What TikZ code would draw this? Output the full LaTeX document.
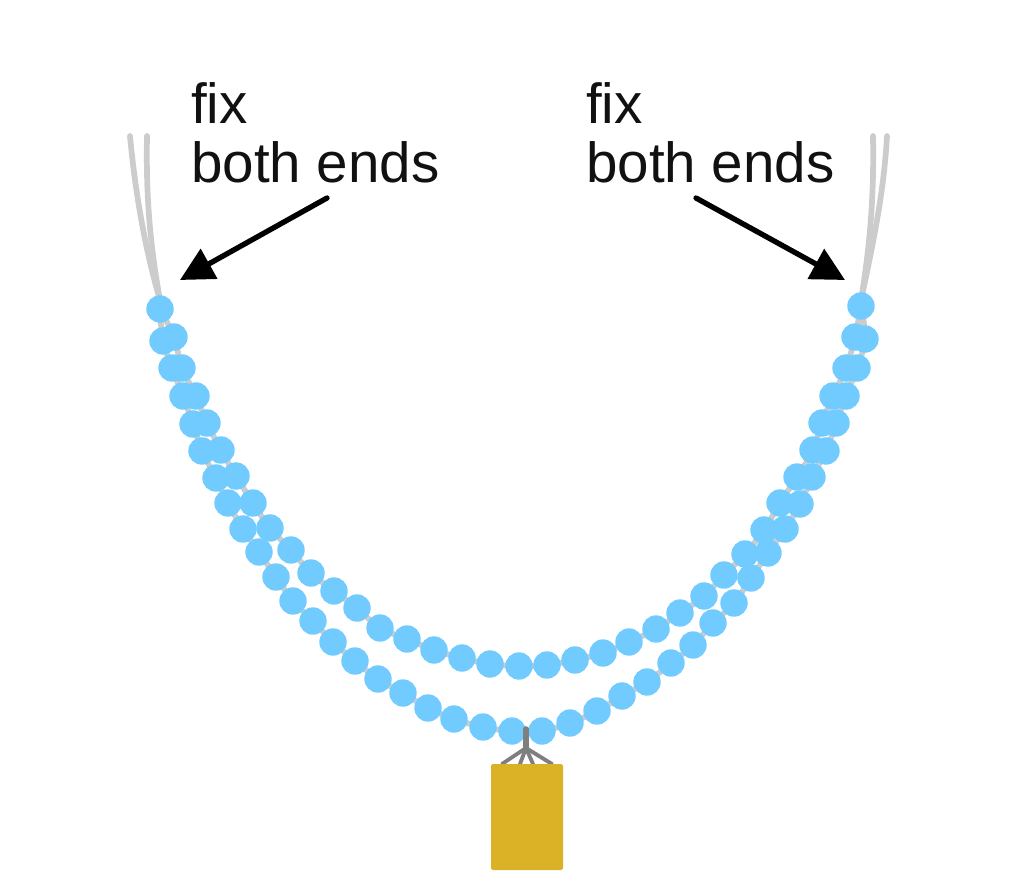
\documentclass[tikz,border=0pt]{standalone}
\usepackage{fontspec}
\setmainfont{Liberation Sans}
\usetikzlibrary{arrows.meta}
\definecolor{beadc}{HTML}{71CBFF}
\definecolor{stringc}{HTML}{CCCCCC}
\definecolor{goldc}{HTML}{DBB126}
\definecolor{hookc}{HTML}{7F7F7F}
\definecolor{inkc}{HTML}{111111}
\tikzset{
  strand/.style={draw=stringc,line width=4.3pt,line cap=round},
  chain/.style={strand,smooth,tension=0.6},
  bead/.style={fill=beadc,draw=none},
  hook/.style={draw=hookc,line cap=round},
  lbl/.style={anchor=base west,inner sep=0pt,font=\fontsize{42.4}{44}\selectfont,text=inkc},
  pointer/.style={draw=black,line width=4pt,line cap=round,-{Triangle[length=25pt,width=25pt]}}
}
\newcommand{\lowerchain}{(160,309)(163,341)(172,368)(183,396)(193,424)(202,451)(216,478)(228,503)(243,529)(259,552)(276,577)(293,601)(313,621)(333,642)(355,661)(378,679)(403,693)(428,708)(454,719)(483,727)(512,731)(542,731)(570,723)(597,711)(622,696)(647,682)(671,663)(693,645)(713,623)(734,603)(751,578)(768,553)(785,529)(800,504)(812,477)(826,451)(836,423)(846,396)(857,368)(865,339)(861,306)}
\newcommand{\upperchain}{(160,309)(174,337)(182,368)(196,396)(207,423)(221,450)(236,476)(253,503)(270,528)(291,550)(311,573)(334,591)(357,608)(380,628)(407,639)(434,650)(462,658)(490,664)(519,666)(547,665)(575,660)(603,653)(629,642)(656,629)(680,613)(704,596)(724,575)(745,554)(764,530)(780,503)(797,477)(813,450)(822,423)(833,396)(846,368)(855,337)(861,306)}
\begin{document}
\begin{tikzpicture}[x=0.75pt,y=-0.75pt]
\useasboundingbox (0,0) rectangle (1024,887);
% free strand ends
\draw[strand] (130,136) .. controls (135,190) and (145,250) .. (160,300);
\draw[strand] (147,136) .. controls (146,190) and (149,240) .. (160,300);
\draw[strand] (873,136) .. controls (874,190) and (871,240) .. (861,300);
\draw[strand] (887,136) .. controls (884,190) and (874,240) .. (861,300);
% strands through the beads
\draw[chain] plot coordinates {\lowerchain};
\draw[chain] plot coordinates {\upperchain};
% beads
\foreach \px/\py in {160/309,163/341,172/368,183/396,193/424,202/451,216/478,228/503,243/529,259/552,276/577,293/601,313/621,333/642,355/661,378/679,403/693,428/708,454/719,483/727,512/731,542/731,570/723,597/711,622/696,647/682,671/663,693/645,713/623,734/603,751/578,768/553,785/529,800/504,812/477,826/451,836/423,846/396,857/368,865/339,861/306,174/337,182/368,196/396,207/423,221/450,236/476,253/503,270/528,291/550,311/573,334/591,357/608,380/628,407/639,434/650,462/658,490/664,519/666,547/665,575/660,603/653,629/642,656/629,680/613,704/596,724/575,745/554,764/530,780/503,797/477,813/450,822/423,833/396,846/368,855/337}
  \fill[bead] (\px,\py) circle[radius=13.7];
% hanger
\coordinate (stemtop) at (526,729);
\coordinate (stembot) at (526,748);
\draw[hook,line width=4.2pt] (stemtop) -- (stembot);
\foreach \fx in {502,520,533,552}
  \draw[hook,line width=2.9pt] (stembot) -- (\fx,764);
% weight
\fill[goldc,rounded corners=1.2pt] (491,764) rectangle (563,870);
% labels
\node[lbl] (fixl1) at (191,124) {fix};
\node[lbl] (fixl2) at (191,183) {both ends};
\node[lbl] (fixr1) at (586,124) {fix};
\node[lbl] (fixr2) at (586,183) {both ends};
% arrows
\coordinate (la) at (327,198);
\coordinate (lb) at (180,280);
\coordinate (ra) at (696,198);
\coordinate (rb) at (845,280);
\draw[pointer] (la) -- (lb);
\draw[pointer] (ra) -- (rb);
\end{tikzpicture}
\end{document}
